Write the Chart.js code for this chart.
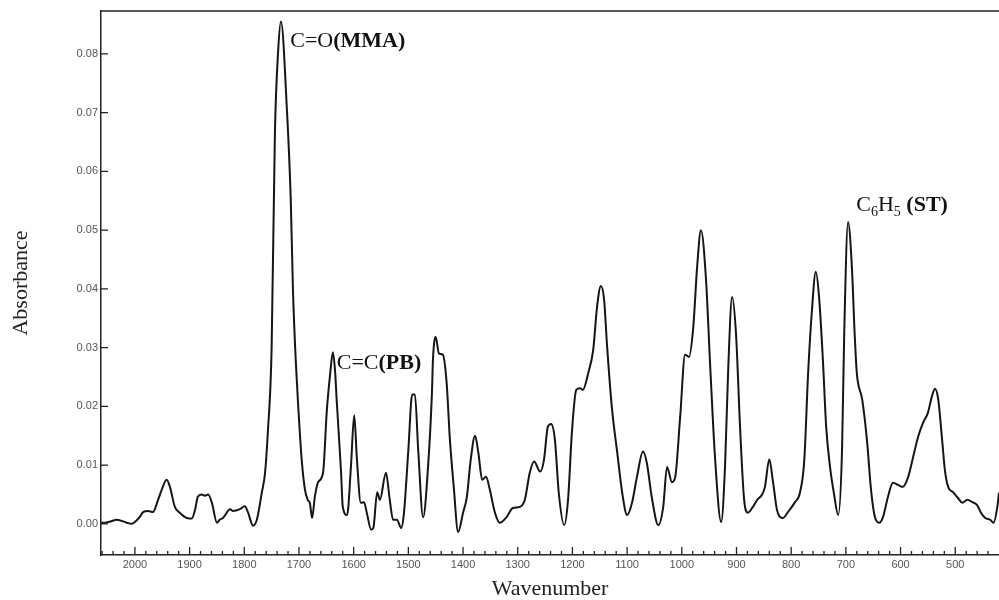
<!DOCTYPE html>
<html>
<head>
<meta charset="utf-8">
<script src="https://cdn.jsdelivr.net/npm/chart.js@4.4.0/dist/chart.umd.min.js"></script>
<style>
  html, body { margin: 0; padding: 0; background: #fff; }
  #wrap { width: 999px; height: 600px; }
</style>
</head>
<body>
<div id="wrap"><canvas id="ftir"></canvas></div>
<script>
// FTIR spectrum
const wavenumbers = [
  2062, 2055, 2045, 2033, 2015, 2006, 1998, 1991, 1985, 1976, 1967, 1958, 1951, 1942, 1936,
  1927, 1918, 1905, 1896, 1890, 1885, 1878, 1872, 1866, 1859, 1850, 1845, 1839, 1826, 1821,
  1808, 1799, 1793, 1784, 1777, 1768, 1762, 1757, 1750, 1744, 1738, 1733, 1722, 1715, 1711,
  1706, 1702, 1695, 1689, 1684, 1680, 1676, 1671, 1665, 1656, 1649, 1643, 1638, 1634, 1631,
  1623, 1620, 1612, 1605, 1599, 1594, 1587, 1581, 1576, 1568, 1564, 1557, 1552, 1541, 1534,
  1528, 1521, 1513, 1508, 1500, 1493, 1488, 1482, 1473, 1464, 1457, 1455, 1450, 1444, 1437,
  1430, 1424, 1417, 1409, 1400, 1393, 1386, 1378, 1372, 1365, 1358, 1351, 1342, 1333, 1320,
  1309, 1296, 1287, 1278, 1270, 1259, 1252, 1245, 1239, 1232, 1225, 1215, 1208, 1201, 1193,
  1186, 1181, 1171, 1162, 1155, 1148, 1142, 1137, 1128, 1118, 1109, 1100, 1091, 1082, 1071,
  1064, 1055, 1043, 1034, 1027, 1018, 1012, 1003, 994, 987, 979, 972, 965, 956, 948,
  939, 928, 921, 915, 908, 901, 893, 886, 879, 870, 862, 853, 848, 840, 833,
  826, 815, 806, 793, 784, 776, 769, 762, 755, 749, 742, 736, 729, 722, 714,
  707, 703, 696, 689, 684, 680, 670, 661, 654, 647, 639, 632, 623, 614, 604,
  596, 586, 577, 568, 559, 550, 543, 537, 531, 524, 519, 513, 504, 495, 487,
  478, 469, 460, 453, 445, 436, 430, 423, 420
];
const absorbance = [
  0.0002, 0.0002, 0.0004, 0.0007, 0.0002, 0.0000, 0.0005, 0.0012, 0.0020, 0.0022, 0.0020, 0.0040, 0.0058, 0.0075, 0.0063,
  0.0029, 0.0019, 0.0010, 0.0009, 0.0024, 0.0046, 0.0050, 0.0048, 0.0050, 0.0035, 0.0002, 0.0007, 0.0010, 0.0025, 0.0022,
  0.0025, 0.0030, 0.0019, -0.0003, 0.0007, 0.0053, 0.0087, 0.0155, 0.0300, 0.0665, 0.0806, 0.0855, 0.0704, 0.0551, 0.0398,
  0.0280, 0.0210, 0.0109, 0.0058, 0.0041, 0.0035, 0.0010, 0.0046, 0.0071, 0.0087, 0.0194, 0.0255, 0.0292, 0.0260, 0.0210,
  0.0087, 0.0030, 0.0015, 0.0097, 0.0185, 0.0109, 0.0036, 0.0037, 0.0019, -0.0010, -0.0007, 0.0054, 0.0041, 0.0087, 0.0041,
  0.0007, 0.0007, -0.0007, 0.0019, 0.0126, 0.0220, 0.0220, 0.0126, 0.0011, 0.0097, 0.0220, 0.0280, 0.0318, 0.0290, 0.0288,
  0.0240, 0.0143, 0.0063, -0.0014, 0.0019, 0.0046, 0.0109, 0.0150, 0.0121, 0.0075, 0.0080, 0.0058, 0.0020, 0.0002, 0.0012,
  0.0027, 0.0029, 0.0041, 0.0087, 0.0106, 0.0089, 0.0109, 0.0165, 0.0170, 0.0143, 0.0053, -0.0002, 0.0041, 0.0155, 0.0228,
  0.0231, 0.0228, 0.0257, 0.0296, 0.0369, 0.0405, 0.0381, 0.0308, 0.0199, 0.0121, 0.0053, 0.0015, 0.0036, 0.0080, 0.0123,
  0.0104, 0.0046, -0.0002, 0.0029, 0.0097, 0.0071, 0.0080, 0.0182, 0.0288, 0.0284, 0.0335, 0.0437, 0.0500, 0.0420, 0.0267,
  0.0109, 0.0003, 0.0097, 0.0267, 0.0386, 0.0325, 0.0155, 0.0041, 0.0019, 0.0029, 0.0041, 0.0050, 0.0063, 0.0110, 0.0070,
  0.0024, 0.0010, 0.0020, 0.0037, 0.0053, 0.0109, 0.0257, 0.0364, 0.0429, 0.0386, 0.0279, 0.0165, 0.0097, 0.0053, 0.0015,
  0.0126, 0.0325, 0.0514, 0.0437, 0.0325, 0.0257, 0.0211, 0.0138, 0.0058, 0.0012, 0.0002, 0.0012, 0.0046, 0.0070, 0.0066,
  0.0063, 0.0080, 0.0114, 0.0148, 0.0172, 0.0189, 0.0216, 0.0230, 0.0211, 0.0143, 0.0092, 0.0063, 0.0054, 0.0044, 0.0036,
  0.0041, 0.0037, 0.0032, 0.0019, 0.0010, 0.0007, 0.0002, 0.0029, 0.0053
];

// axis settings
const xRange = [420, 2062];
const yRange = [-0.0053, 0.0873];
const xMajorStep = 100;
const xMinorStep = 20;
const yStep = 0.01;

// peak labels: [wavenumber, absorbance, pieces]
const peakLabels = [
  { w: 1716, a: 0.0812, parts: [["C=O", "normal"], ["(MMA)", "bold"]] },
  { w: 1631, a: 0.0264, parts: [["C=C", "normal"], ["(PB)", "bold"]] },
  { w: 681, a: 0.0533, parts: [["C", "normal"], ["6", "sub"], ["H", "normal"], ["5", "sub"], [" (ST)", "bold"]] }
];

const serif = '"Liberation Serif", "Times New Roman", serif';
const sans = '"Liberation Sans", Arial, sans-serif';

// frame top line, inside ticks and the peak labels
const spectrumDecor = {
  id: "spectrumDecor",
  afterDraw(chart) {
    const { ctx, chartArea, scales } = chart;
    const x = scales.x, y = scales.y;
    ctx.save();
    ctx.strokeStyle = "#222";
    ctx.lineWidth = 1.5;
    ctx.beginPath();
    ctx.moveTo(chartArea.left, chartArea.top);
    ctx.lineTo(chartArea.right, chartArea.top);
    ctx.stroke();

    ctx.lineWidth = 1.3;
    ctx.beginPath();
    for (let w = 440; w <= 2060; w += xMinorStep) {
      const px = x.getPixelForValue(w);
      const len = w % xMajorStep === 0 ? 8 : 4;
      ctx.moveTo(px, chartArea.bottom);
      ctx.lineTo(px, chartArea.bottom - len);
    }
    for (let i = 0; i <= 8; i++) {
      const py = y.getPixelForValue(i * yStep);
      ctx.moveTo(chartArea.left, py);
      ctx.lineTo(chartArea.left + 7, py);
    }
    ctx.stroke();

    ctx.fillStyle = "#111";
    ctx.textBaseline = "alphabetic";
    peakLabels.forEach((lab) => {
      let px = x.getPixelForValue(lab.w);
      const py = y.getPixelForValue(lab.a);
      lab.parts.forEach(([txt, kind]) => {
        if (kind === "bold") ctx.font = "bold 22px " + serif;
        else if (kind === "sub") ctx.font = "14px " + serif;
        else ctx.font = "22px " + serif;
        ctx.fillText(txt, px, kind === "sub" ? py + 5 : py);
        px += ctx.measureText(txt).width;
      });
    });
    ctx.restore();
  }
};

const ctx = document.getElementById("ftir").getContext("2d");
new Chart(ctx, {
  type: "line",
  data: {
    datasets: [
      {
        data: wavenumbers.map((w, i) => ({ x: w, y: absorbance[i] })),
        borderColor: "#151515",
        borderWidth: 2,
        pointRadius: 0,
        cubicInterpolationMode: "monotone",
        fill: false
      }
    ]
  },
  options: {
    responsive: true,
    maintainAspectRatio: false,
    animation: false,
    layout: { padding: { top: 11, right: 0, bottom: 0, left: 0 } },
    plugins: {
      legend: { display: false },
      tooltip: { enabled: false }
    },
    scales: {
      x: {
        type: "linear",
        reverse: true,
        min: xRange[0],
        max: xRange[1],
        grid: { display: false, drawTicks: false },
        border: { display: true, color: "#222", width: 1.5 },
        ticks: {
          stepSize: xMajorStep,
          includeBounds: false,
          padding: 3,
          maxRotation: 0,
          color: "#555",
          font: { family: sans, size: 11 },
          callback: (v) => (v % xMajorStep === 0 ? String(v) : "")
        },
        title: {
          display: true,
          text: "Wavenumber",
          color: "#222",
          font: { family: serif, size: 22 },
          padding: { top: 0, bottom: -2 }
        },
        afterFit: (scale) => { scale.height = 45; }
      },
      y: {
        min: yRange[0],
        max: yRange[1],
        grid: { display: false, drawTicks: false },
        border: { display: true, color: "#222", width: 1.5 },
        ticks: {
          stepSize: yStep,
          includeBounds: false,
          padding: 3,
          color: "#555",
          font: { family: sans, size: 11 },
          callback: (v) => v.toFixed(2)
        },
        title: {
          display: true,
          text: "Absorbance",
          color: "#222",
          font: { family: serif, size: 22 },
          padding: { top: 8, bottom: 0 }
        },
        afterFit: (scale) => { scale.width = 101; }
      }
    }
  },
  plugins: [spectrumDecor]
});
</script>
</body>
</html>
